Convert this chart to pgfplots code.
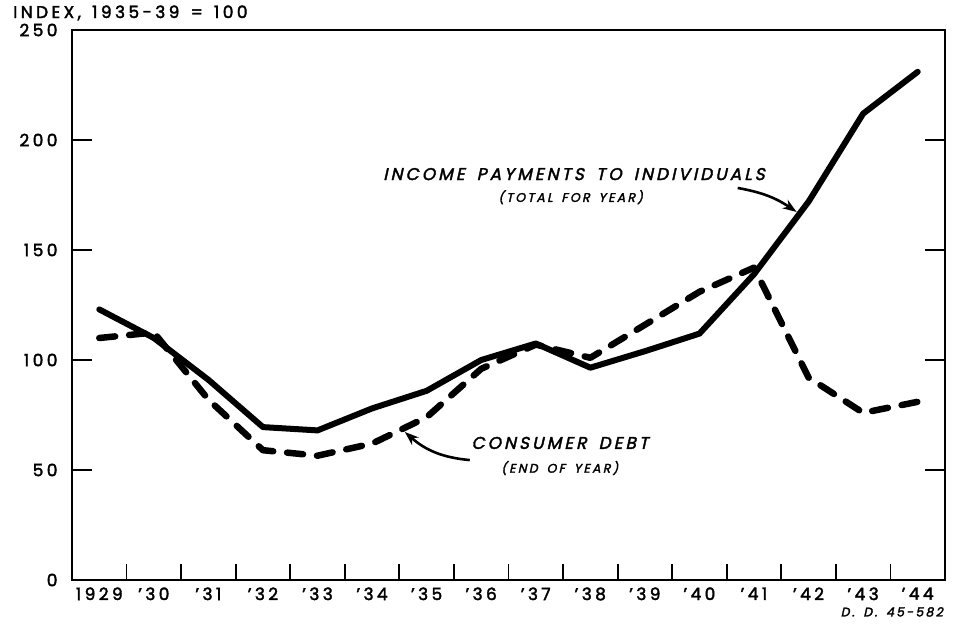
\documentclass[border=0pt]{standalone}
\usepackage{pgfplots}
\pgfplotsset{compat=1.18}
\usetikzlibrary{arrows.meta}
\usepackage{fontspec}
\setmainfont{Poppins}[LetterSpace=20, FakeBold=2.2, WordSpace=1.4]
\newfontfamily\slfont{Poppins}[FakeSlant=0.22, LetterSpace=18, FakeBold=2.2, WordSpace=1.6]
\begin{document}
\begin{tikzpicture}
\begin{axis}[
  scale only axis, width=873pt, height=550pt,
  xmin=1928.5, xmax=1944.5, ymin=0, ymax=250,
  clip=false,
  axis line style={line width=2.4pt},
  xtick={1929,...,1944},
  xticklabels={1929,’30,’31,’32,’33,’34,’35,’36,’37,’38,’39,’40,’41,’42,’43,’44},
  major x tick style={draw=none},
  minor xtick={1929.5,1930.5,1931.5,1932.5,1933.5,1934.5,1935.5,1936.5,1937.5,1938.5,1939.5,1940.5,1941.5,1942.5,1943.5},
  minor tick length=16pt,
  major tick length=20pt,
  xtick pos=left,
  ytick={0,50,...,250},
  tick align=inside,
  tick style={line width=1.8pt, black},
  /pgf/number format/assume math mode=true,
  tick label style={font=\fontsize{17}{20}\selectfont},
  yticklabel style={xshift=-11pt},
  xticklabel style={yshift=-4pt},
]
\addplot[line width=6pt, line join=round, line cap=round] coordinates {
(1929,123) (1930,110) (1931,91) (1932,69.5) (1933,68) (1934,78) (1935,86) (1936,100)
(1937,107.5) (1938,96.5) (1939,104) (1940,112) (1941,139) (1942,172) (1943,212) (1944,231)};
\addplot[line width=6.5pt, line join=round, line cap=round, dash pattern=on 16pt off 14pt] coordinates {
(1929,110) (1930,112.5) (1931,82) (1932,59) (1933,56.5) (1934,62) (1935,74) (1936,96)
(1937,107) (1938,101) (1939,116) (1940,131) (1941,142) (1942,92) (1943,76) (1944,81)};
\node[font=\slfont\fontsize{17}{20}\selectfont] at (axis cs:1937.7,184.5) {INCOME PAYMENTS TO INDIVIDUALS};
\node[font=\slfont\fontsize{12.5}{15}\selectfont] at (axis cs:1937.64,174) {(TOTAL FOR YEAR)};
\node[font=\slfont\fontsize{17}{20}\selectfont] at (axis cs:1937.44,62.3) {CONSUMER DEBT};
\node[font=\slfont\fontsize{12.5}{15}\selectfont] at (axis cs:1937.44,50.9) {(END OF YEAR)};
\draw[line width=2.6pt, -{Stealth[length=14pt,width=10pt]}] (axis cs:1940.70,178.2) to[bend left=12] (axis cs:1941.78,167.3);
\draw[line width=2.6pt, -{Stealth[length=14pt,width=10pt]}] (axis cs:1935.79,54.5) to[bend left=18] (axis cs:1934.60,67.3);
\node[font=\slfont\fontsize{12.5}{15}\selectfont, anchor=north east, inner sep=0pt] at ([xshift=-2pt,yshift=-27pt]rel axis cs:1,0) {D. D. 45-582};
\node[font=\fontsize{17}{20}\selectfont, anchor=west, inner sep=0pt] at ([xshift=-59pt,yshift=17pt]rel axis cs:0,1) {INDEX, 1935-39 = 100};
\end{axis}
\path (current axis.north west) ++(-72pt,30pt) coordinate (A);
\path (current axis.south east) ++(9pt,-47pt) coordinate (B);
\pgfresetboundingbox
\path (A) rectangle (B);
\end{tikzpicture}
\end{document}
